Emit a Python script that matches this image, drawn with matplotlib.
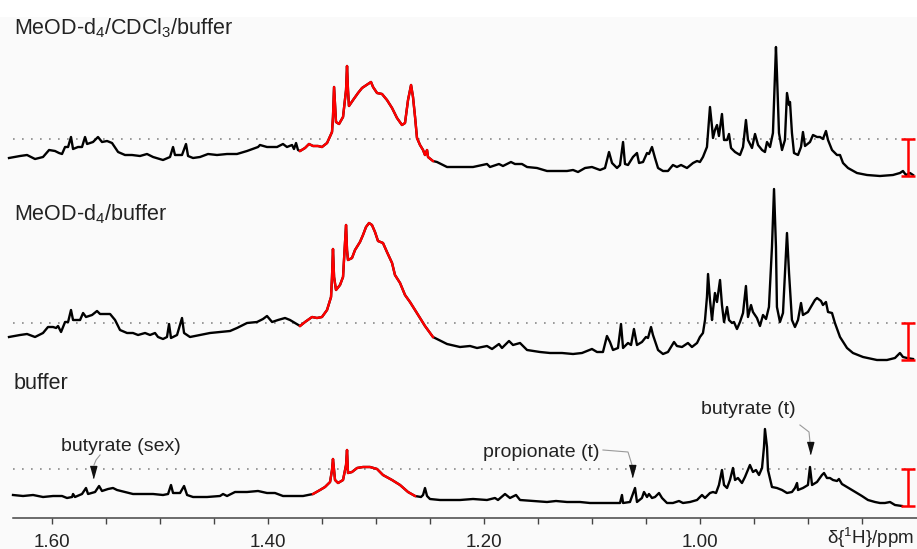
import matplotlib
matplotlib.use('Agg')
import matplotlib.pyplot as plt
import numpy as np
from matplotlib.ticker import FixedLocator, FuncFormatter
from matplotlib.patches import Rectangle

plt.rcParams['font.family'] = ['Liberation Sans', 'DejaVu Sans']
plt.rcParams['mathtext.fontset'] = 'custom'
plt.rcParams['mathtext.rm'] = 'Liberation Sans'
plt.rcParams['mathtext.it'] = 'Liberation Sans:italic'
plt.rcParams['mathtext.bf'] = 'Liberation Sans:bold'

# ---------------- data ----------------
panel_labels = ['MeOD-d$_4$/CDCl$_3$/buffer', 'MeOD-d$_4$/buffer', 'buffer']

ppm_top = [1.6397, 1.6295, 1.6230, 1.6156, 1.6082, 1.6026, 1.5971, 1.5934, 1.5906, 1.5878,
           1.5850, 1.5823, 1.5804, 1.5758, 1.5721, 1.5693, 1.5674, 1.5619, 1.5573, 1.5536,
           1.5489, 1.5443, 1.5387, 1.5323, 1.5258, 1.5184, 1.5119, 1.5063, 1.4971, 1.4906,
           1.4878, 1.4860, 1.4795, 1.4758, 1.4739, 1.4693, 1.4628, 1.4554, 1.4471, 1.4378,
           1.4286, 1.4193, 1.4091, 1.4073, 1.4008, 1.3915, 1.3860, 1.3823, 1.3776, 1.3758,
           1.3739, 1.3721, 1.3702, 1.3656, 1.3619, 1.3582, 1.3536, 1.3499, 1.3452, 1.3406,
           1.3397, 1.3387, 1.3369, 1.3341, 1.3304, 1.3276, 1.3267, 1.3258, 1.3249, 1.3211,
           1.3165, 1.3128, 1.3073, 1.3045, 1.3026, 1.2989, 1.2943, 1.2897, 1.2850, 1.2804,
           1.2758, 1.2730, 1.2702, 1.2674, 1.2656, 1.2637, 1.2619, 1.2591, 1.2563, 1.2545,
           1.2526, 1.2517, 1.2471, 1.2434, 1.2341, 1.2221, 1.2100, 1.1971, 1.1943, 1.1860,
           1.1823, 1.1749, 1.1712, 1.1647, 1.1600, 1.1508, 1.1415, 1.1323, 1.1230, 1.1174,
           1.1128, 1.1063, 1.0999, 1.0924, 1.0878, 1.0841, 1.0813, 1.0767, 1.0739, 1.0711,
           1.0693, 1.0665, 1.0619, 1.0582, 1.0563, 1.0526, 1.0489, 1.0471, 1.0443, 1.0415,
           1.0387, 1.0341, 1.0295, 1.0249, 1.0212, 1.0174, 1.0119, 1.0063, 1.0026, 0.9999,
           0.9971, 0.9934, 0.9924, 0.9906, 0.9887, 0.9878, 0.9860, 0.9841, 0.9823, 0.9795,
           0.9776, 0.9748, 0.9730, 0.9711, 0.9674, 0.9628, 0.9600, 0.9573, 0.9554, 0.9517,
           0.9489, 0.9461, 0.9424, 0.9397, 0.9378, 0.9350, 0.9323, 0.9304, 0.9295, 0.9286,
           0.9267, 0.9239, 0.9212, 0.9193, 0.9174, 0.9165, 0.9147, 0.9128, 0.9091, 0.9063,
           0.9045, 0.9026, 0.8980, 0.8952, 0.8915, 0.8887, 0.8860, 0.8832, 0.8813, 0.8776,
           0.8730, 0.8702, 0.8674, 0.8628, 0.8545, 0.8452, 0.8332, 0.8212, 0.8147, 0.8119,
           0.8091, 0.8054, 0.8026]
int_top = [18, 20, 21, 17, 19, 26, 25, 23, 22, 29,
           29, 39, 27, 29, 29, 39, 32, 34, 39, 34,
           35, 33, 24, 21, 21, 20, 22, 19, 16, 19,
           29, 21, 21, 32, 20, 18, 19, 22, 21, 22,
           22, 25, 29, 31, 29, 29, 32, 29, 31, 27,
           33, 26, 25, 28, 32, 30, 30, 29, 33, 44,
           59, 89, 54, 52, 59, 86, 110, 86, 70, 76,
           83, 88, 92, 94, 89, 83, 82, 76, 68, 58,
           51, 53, 76, 91, 79, 59, 38, 31, 26, 21,
           26, 19, 15, 14, 9, 9, 9, 12, 9, 12,
           10, 14, 12, 12, 9, 8, 5, 5, 5, 6,
           4, 8, 9, 6, 8, 24, 13, 8, 11, 34,
           12, 11, 19, 23, 13, 14, 23, 22, 29, 18,
           8, 5, 5, 11, 9, 11, 8, 13, 15, 14,
           19, 29, 43, 69, 49, 38, 46, 51, 40, 62,
           36, 36, 42, 28, 24, 21, 29, 56, 36, 28,
           42, 31, 26, 24, 34, 29, 43, 103, 129, 103,
           43, 26, 36, 83, 71, 74, 43, 23, 21, 29,
           44, 30, 34, 41, 39, 39, 37, 45, 36, 26,
           21, 21, 13, 8, 3, 1, 0, 1, 3, 5,
           1, 3, 1]

ppm_mid = [1.6397, 1.6295, 1.6230, 1.6156, 1.6082, 1.6036, 1.5989, 1.5961, 1.5943, 1.5915,
           1.5878, 1.5850, 1.5823, 1.5804, 1.5739, 1.5711, 1.5684, 1.5628, 1.5582, 1.5554,
           1.5461, 1.5415, 1.5369, 1.5304, 1.5249, 1.5202, 1.5137, 1.5091, 1.5045, 1.5017,
           1.4971, 1.4934, 1.4915, 1.4897, 1.4841, 1.4795, 1.4776, 1.4721, 1.4628, 1.4536,
           1.4443, 1.4350, 1.4286, 1.4193, 1.4100, 1.4045, 1.4008, 1.3961, 1.3906, 1.3841,
           1.3795, 1.3748, 1.3702, 1.3656, 1.3591, 1.3545, 1.3499, 1.3452, 1.3415, 1.3406,
           1.3397, 1.3387, 1.3369, 1.3332, 1.3304, 1.3286, 1.3276, 1.3267, 1.3258, 1.3221,
           1.3193, 1.3147, 1.3119, 1.3091, 1.3063, 1.3036, 1.3008, 1.2980, 1.2934, 1.2897,
           1.2850, 1.2823, 1.2776, 1.2730, 1.2684, 1.2637, 1.2591, 1.2545, 1.2471, 1.2341,
           1.2221, 1.2128, 1.2063, 1.1971, 1.1924, 1.1860, 1.1832, 1.1767, 1.1730, 1.1665,
           1.1600, 1.1480, 1.1387, 1.1276, 1.1174, 1.1091, 1.0999, 1.0952, 1.0897, 1.0860,
           1.0832, 1.0804, 1.0758, 1.0730, 1.0711, 1.0665, 1.0637, 1.0610, 1.0582, 1.0536,
           1.0499, 1.0480, 1.0452, 1.0434, 1.0387, 1.0341, 1.0295, 1.0239, 1.0212, 1.0165,
           1.0110, 1.0073, 1.0026, 0.9999, 0.9971, 0.9952, 0.9934, 0.9924, 0.9906, 0.9887,
           0.9878, 0.9860, 0.9841, 0.9813, 0.9795, 0.9776, 0.9748, 0.9730, 0.9702, 0.9684,
           0.9656, 0.9628, 0.9600, 0.9573, 0.9554, 0.9526, 0.9508, 0.9471, 0.9443, 0.9415,
           0.9387, 0.9360, 0.9332, 0.9313, 0.9295, 0.9286, 0.9258, 0.9230, 0.9212, 0.9193,
           0.9174, 0.9147, 0.9119, 0.9091, 0.9063, 0.9045, 0.8999, 0.8961, 0.8934, 0.8915,
           0.8878, 0.8860, 0.8832, 0.8813, 0.8776, 0.8749, 0.8702, 0.8637, 0.8582, 0.8489,
           0.8360, 0.8267, 0.8193, 0.8147, 0.8119, 0.8082, 0.8026]
int_mid = [23, 25, 26, 23, 27, 33, 33, 32, 34, 28,
           38, 38, 50, 40, 40, 47, 43, 45, 49, 46,
           46, 40, 30, 27, 27, 25, 27, 25, 27, 23,
           21, 23, 36, 22, 25, 42, 27, 23, 25, 27,
           28, 29, 32, 37, 38, 41, 44, 38, 40, 42,
           40, 37, 34, 38, 43, 42, 43, 50, 63, 83,
           111, 83, 70, 75, 83, 117, 135, 110, 100, 102,
           110, 118, 125, 133, 137, 135, 128, 119, 117, 108,
           97, 85, 77, 65, 58, 50, 42, 34, 23, 16,
           13, 14, 12, 14, 11, 16, 12, 19, 15, 17,
           10, 8, 7, 7, 6, 7, 11, 8, 8, 24,
           18, 10, 12, 36, 12, 17, 15, 31, 15, 18,
           23, 22, 33, 25, 10, 6, 8, 18, 14, 13,
           17, 13, 17, 23, 27, 40, 63, 86, 60, 40,
           50, 67, 58, 80, 55, 38, 53, 40, 37, 38,
           31, 38, 47, 74, 43, 55, 48, 42, 34, 45,
           41, 53, 113, 171, 113, 53, 38, 47, 87, 127,
           87, 40, 33, 40, 57, 45, 48, 55, 60, 62,
           59, 55, 58, 48, 47, 37, 23, 12, 7, 3,
           0, 0, 2, 7, 3, 2, 1]

ppm_bot = [1.6360, 1.6267, 1.6174, 1.6082, 1.5989, 1.5906, 1.5860, 1.5813, 1.5804, 1.5786,
           1.5721, 1.5684, 1.5665, 1.5600, 1.5563, 1.5536, 1.5480, 1.5434, 1.5397, 1.5323,
           1.5249, 1.5156, 1.5063, 1.4971, 1.4924, 1.4897, 1.4878, 1.4813, 1.4776, 1.4748,
           1.4693, 1.4563, 1.4443, 1.4415, 1.4378, 1.4304, 1.4193, 1.4091, 1.4008, 1.3934,
           1.3860, 1.3767, 1.3674, 1.3582, 1.3517, 1.3471, 1.3424, 1.3406, 1.3397, 1.3378,
           1.3350, 1.3304, 1.3276, 1.3267, 1.3258, 1.3221, 1.3174, 1.3119, 1.3054, 1.2989,
           1.2934, 1.2850, 1.2776, 1.2702, 1.2637, 1.2582, 1.2563, 1.2545, 1.2526, 1.2499,
           1.2406, 1.2286, 1.2221, 1.2100, 1.1971, 1.1897, 1.1869, 1.1804, 1.1758, 1.1702,
           1.1665, 1.1545, 1.1415, 1.1332, 1.1230, 1.1110, 1.1017, 1.0924, 1.0813, 1.0739,
           1.0721, 1.0711, 1.0647, 1.0600, 1.0582, 1.0536, 1.0517, 1.0489, 1.0471, 1.0443,
           1.0415, 1.0378, 1.0350, 1.0304, 1.0249, 1.0193, 1.0156, 1.0091, 1.0026, 0.9980,
           0.9952, 0.9906, 0.9878, 0.9850, 0.9823, 0.9795, 0.9776, 0.9748, 0.9721, 0.9693,
           0.9674, 0.9647, 0.9610, 0.9582, 0.9536, 0.9508, 0.9480, 0.9452, 0.9424, 0.9406,
           0.9397, 0.9378, 0.9369, 0.9332, 0.9286, 0.9239, 0.9193, 0.9147, 0.9119, 0.9100,
           0.9091, 0.9045, 0.8999, 0.8980, 0.8961, 0.8915, 0.8869, 0.8850, 0.8823, 0.8795,
           0.8767, 0.8730, 0.8712, 0.8684, 0.8637, 0.8591, 0.8545, 0.8499, 0.8443, 0.8378,
           0.8332, 0.8286, 0.8239, 0.8193, 0.8128]
int_bot = [11, 10, 11, 9, 10, 10, 8, 9, 12, 9,
           12, 18, 12, 14, 20, 15, 17, 18, 16, 14,
           12, 12, 12, 11, 12, 21, 13, 13, 20, 11,
           9, 9, 10, 12, 10, 14, 14, 15, 13, 13,
           10, 10, 10, 12, 16, 19, 24, 36, 47, 26,
           23, 26, 41, 56, 33, 34, 38, 39, 39, 37,
           31, 26, 21, 14, 10, 9, 11, 18, 10, 7,
           6, 6, 6, 7, 6, 8, 6, 12, 8, 11,
           6, 5, 4, 5, 4, 4, 3, 3, 3, 3,
           11, 3, 4, 18, 4, 8, 14, 9, 12, 8,
           9, 13, 8, 3, 3, 5, 3, 4, 6, 11,
           8, 13, 14, 13, 21, 36, 21, 18, 26, 38,
           26, 28, 23, 29, 41, 34, 36, 31, 38, 59,
           77, 59, 36, 19, 18, 16, 13, 14, 18, 23,
           16, 18, 21, 39, 21, 24, 31, 33, 28, 28,
           26, 25, 27, 22, 19, 16, 13, 10, 6, 4,
           3, 3, 4, 1, 0]

# red (highlighted) chemical-shift window of each trace: (start, end) in ppm
red_windows = [(1.3702, 1.2471), (1.3702, 1.2471), (1.3582, 1.2637)]

tick_values = [1.60, 1.55, 1.50, 1.45, 1.40, 1.35, 1.30, 1.25, 1.20, 1.15,
               1.10, 1.05, 1.00, 0.95, 0.90, 0.85]
tick_labels = {1.60: '1.60', 1.40: '1.40', 1.20: '1.20', 1.00: '1.00'}

annotations = ['butyrate (sex)', 'propionate (t)', 'butyrate (t)']

# ---------------- layout / style ----------------
offsets = [342, 158, 12]          # vertical stacking of the three traces
ref_height = 37                   # height of dotted reference line / scale bar
scalebar_ppm = 0.8073
label_y = [0.938, 0.599, 0.291]   # panel labels (figure fraction, baseline)

ann_text_pos = [(1.5915, 67), (1.2008, 61), (0.9989, 104)]
ann_leaders = [([1.5554, 1.5591, 1.5610], [63, 58, 53]),
               ([1.0897, 1.0665, 1.0628], [68, 66, 53]),
               ([0.9073, 0.8989, 0.8980], [93, 86, 76])]
ann_heads = [(1.5619, 46), (1.0628, 47), (0.8980, 70.5)]

TXT = '#222222'
fig = plt.figure(figsize=(9.17, 5.49), dpi=100, facecolor='#fafafa')
fig.patches.append(Rectangle((0, 1 - 17 / 549), 1, 17 / 549, transform=fig.transFigure,
                             facecolor='white', edgecolor='none', zorder=0))
ax = fig.add_axes([13 / 917, 31 / 549, 904 / 917, 518 / 549])
ax.set_facecolor('none')
ax.set_xlim(1.636, 0.7989)
ax.set_ylim(0, 518)

traces = [(ppm_top, int_top), (ppm_mid, int_mid), (ppm_bot, int_bot)]
for (x, y), off, (r0, r1), lab, ly in zip(traces, offsets, red_windows, panel_labels, label_y):
    x = np.asarray(x)
    y = np.asarray(y, dtype=float) + off
    ax.axhline(off + ref_height, color='#8a8a8a', lw=1.2, linestyle=(0, (1, 4.4)), zorder=1)
    ax.plot(x, y, color='black', lw=1.7, solid_joinstyle='round', clip_on=False, zorder=3)
    m = (x <= r0 + 1e-9) & (x >= r1 - 1e-9)
    ax.plot(x[m], y[m], color='#ff0000', lw=1.7, solid_joinstyle='round', clip_on=False, zorder=4)
    ax.errorbar([scalebar_ppm], [off + ref_height / 2], yerr=ref_height / 2, fmt='none',
                ecolor='#ff0000', elinewidth=1.8, capsize=4.7, capthick=1.8, zorder=5)
    fig.text(14 / 917, ly, lab, fontsize=15.5, color=TXT, va='baseline', ha='left')

head_marker = [(-0.55, 1), (0.55, 1), (0, -1)]
for txt, (tx, ty), (lx, lyy), (hx, hy) in zip(annotations, ann_text_pos, ann_leaders, ann_heads):
    ax.text(tx, ty, txt, fontsize=14, color=TXT, ha='left', va='baseline')
    ax.plot(lx, lyy, color='#9a9a9a', lw=0.8, zorder=2)
    ax.plot([hx], [hy], marker=head_marker, markersize=8.6, color='#111111', ls='none', zorder=2)

for s in ['left', 'right', 'top']:
    ax.spines[s].set_visible(False)
ax.spines['bottom'].set_color('#444444')
ax.spines['bottom'].set_linewidth(1.1)
ax.set_yticks([])
ax.xaxis.set_major_locator(FixedLocator(tick_values))
ax.xaxis.set_major_formatter(FuncFormatter(
    lambda v, p: next((t for k, t in tick_labels.items() if abs(k - v) < 1e-6), '')))
ax.tick_params(axis='x', direction='out', length=4.3, width=1.0, color='#444444',
               labelcolor=TXT, labelsize=13.5, pad=7)
fig.text(914 / 917, 5 / 549, r'δ{$^{1}$H}/ppm', fontsize=13.5, color=TXT,
         ha='right', va='baseline')

fig.savefig('out.png', dpi=100, facecolor=fig.get_facecolor())
